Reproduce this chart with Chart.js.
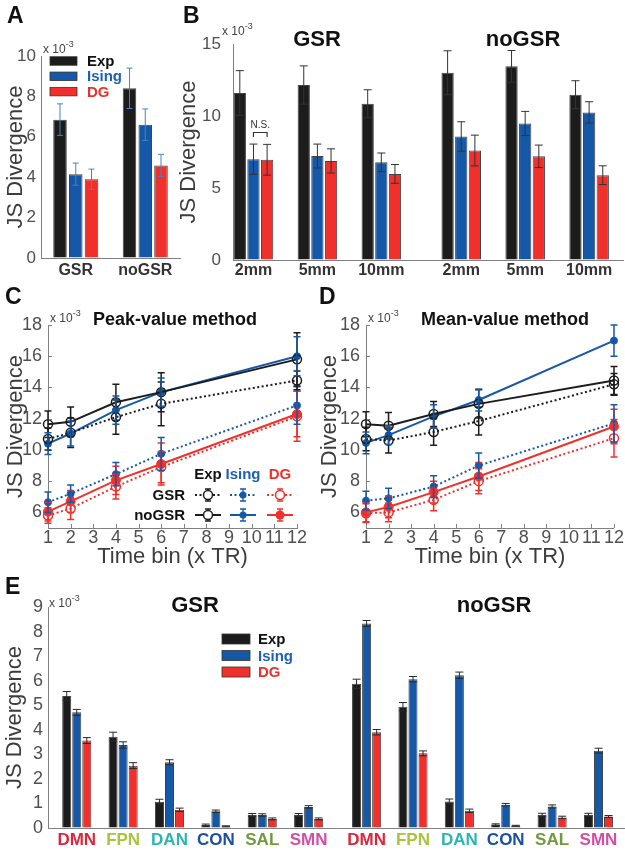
<!DOCTYPE html>
<html>
<head>
<meta charset="utf-8">
<title>JS Divergence</title>
<script src="https://cdn.jsdelivr.net/npm/chart.js@4.4.1/dist/chart.umd.min.js"></script>
<style>
  html, body { margin:0; padding:0; background:#fff; }
  body { position:relative; width:625px; height:853px; overflow:hidden; font-family:'Liberation Sans', Arial, Helvetica, sans-serif; }
  canvas { position:absolute; }
  .t { position:absolute; white-space:nowrap; line-height:1; }
  .letter { font-size:23px; font-weight:bold; color:#111; }
  .sci { font-size:12px; color:#444; }
  .sci span { font-size:9px; position:relative; top:-6px; }
  .ttl { font-weight:bold; color:#111; transform:translateX(-50%); }
</style>
</head>
<body>
<canvas id="cA" width="185" height="282" style="left:0;top:0"></canvas>
<canvas id="cB" width="449" height="282" style="left:176px;top:0"></canvas>
<canvas id="cC" width="312" height="305" style="left:0;top:282px"></canvas>
<canvas id="cD" width="313" height="305" style="left:312px;top:282px"></canvas>
<canvas id="cE" width="625" height="266" style="left:0;top:587px"></canvas>

<div class="t letter" style="left:7px;top:4px">A</div>
<div class="t letter" style="left:183px;top:4px">B</div>
<div class="t letter" style="left:5px;top:285px">C</div>
<div class="t letter" style="left:319px;top:285px">D</div>
<div class="t letter" style="left:5px;top:575px">E</div>

<div class="t sci" style="left:43px;top:43px">x 10<span>-3</span></div>
<div class="t sci" style="left:222px;top:25px">x 10<span>-3</span></div>
<div class="t sci" style="left:50px;top:312px">x 10<span>-3</span></div>
<div class="t sci" style="left:368px;top:312px">x 10<span>-3</span></div>
<div class="t sci" style="left:49px;top:597px">x 10<span>-3</span></div>

<div class="t ttl" style="left:317px;top:28px;font-size:22px">GSR</div>
<div class="t ttl" style="left:523px;top:28px;font-size:22px">noGSR</div>
<div class="t ttl" style="left:175px;top:310px;font-size:18px">Peak-value method</div>
<div class="t ttl" style="left:505px;top:310px;font-size:18px">Mean-value method</div>
<div class="t ttl" style="left:195px;top:594px;font-size:22px">GSR</div>
<div class="t ttl" style="left:494px;top:594px;font-size:22px">noGSR</div>

<script>
// ---------------- DATA ----------------
// Panel A
const A_categories = ['GSR', 'noGSR'];
const A_yTicks = [0, 2, 4, 6, 8, 10];
const A_exp = [6.85, 8.4];
const A_expErr = [0.78, 1.0];
const A_ising = [4.15, 6.6];
const A_isingErr = [0.55, 0.78];
const A_dg = [3.9, 4.58];
const A_dgErr = [0.5, 0.55];

// Panel B
const B_categories = ['2mm', '5mm', '10mm', '2mm', '5mm', '10mm'];
const B_yTicks = [0, 5, 10, 15];
const B_exp = [11.6, 12.15, 10.85, 13.0, 13.45, 11.48];
const B_expErr = [1.55, 1.33, 0.97, 1.53, 1.1, 0.97];
const B_ising = [7.0, 7.22, 6.78, 8.58, 9.48, 10.25];
const B_isingErr = [1.05, 0.83, 0.65, 1.02, 0.84, 0.74];
const B_dg = [6.96, 6.88, 5.98, 7.6, 7.2, 5.89];
const B_dgErr = [1.07, 0.84, 0.65, 1.07, 0.78, 0.65];

// Panels C & D
const timeBins = [1, 2, 4, 6, 12];
const timeTicks = [1, 2, 3, 4, 5, 6, 7, 8, 9, 10, 11, 12];
const lineYTicks = [6, 8, 10, 12, 14, 16, 18];

const C_expGSR = [10.7, 11.1, 12.1, 12.95, 14.45];
const C_expGSR_err = [0.7, 0.95, 1.1, 1.4, 0.6];
const C_expNoGSR = [11.65, 11.8, 13.05, 13.7, 15.8];
const C_expNoGSR_err = [0.85, 0.95, 1.15, 1.25, 1.7];
const C_isingGSR = [6.65, 7.2, 8.45, 9.75, 12.85];
const C_isingGSR_err = [0.65, 0.55, 0.75, 1.05, 1.2];
const C_isingNoGSR = [10.4, 11.05, 12.55, 13.7, 16.0];
const C_isingNoGSR_err = [0.7, 0.8, 0.9, 0.9, 1.25];
const C_dgGSR = [5.8, 6.25, 7.65, 8.9, 12.15];
const C_dgGSR_err = [0.5, 0.7, 0.8, 1.0, 1.6];
const C_dgNoGSR = [6.05, 6.7, 8.05, 9.1, 12.3];
const C_dgNoGSR_err = [0.6, 0.7, 0.9, 1.35, 1.45];

const D_expGSR = [10.7, 10.6, 11.15, 11.85, 14.2];
const D_expGSR_err = [0.75, 0.8, 0.85, 0.9, 0.7];
const D_expNoGSR = [11.65, 11.55, 12.3, 12.95, 14.45];
const D_expNoGSR_err = [0.8, 0.85, 0.8, 0.9, 0.9];
const D_isingGSR = [6.75, 6.9, 7.65, 9.0, 11.7];
const D_isingGSR_err = [0.6, 0.65, 0.7, 0.8, 1.2];
const D_isingNoGSR = [10.45, 10.95, 12.15, 13.2, 17.0];
const D_isingNoGSR_err = [0.7, 0.6, 0.75, 0.7, 1.0];
const D_dgGSR = [5.95, 6.0, 6.8, 8.0, 10.75];
const D_dgGSR_err = [0.6, 0.6, 0.7, 0.8, 1.2];
const D_dgNoGSR = [6.0, 6.35, 7.3, 8.3, 11.5];
const D_dgNoGSR_err = [0.6, 0.7, 0.7, 0.9, 1.1];

// Panel E
const E_networks = ['DMN', 'FPN', 'DAN', 'CON', 'SAL', 'SMN'];
const E_netColors = ['#d8283f', '#aac43e', '#2db6b0', '#1b4f9f', '#6f9b3c', '#d24ea6'];
const E_yTicks = [0, 1, 2, 3, 4, 5, 6, 7, 8, 9];
const E_gsrExp = [5.38, 3.72, 1.07, 0.12, 0.53, 0.53];
const E_gsrExpErr = [0.18, 0.18, 0.1, 0.04, 0.06, 0.06];
const E_gsrIsing = [4.71, 3.38, 2.68, 0.68, 0.53, 0.86];
const E_gsrIsingErr = [0.12, 0.13, 0.1, 0.05, 0.05, 0.05];
const E_gsrDG = [3.56, 2.54, 0.74, 0.07, 0.37, 0.37];
const E_gsrDGErr = [0.12, 0.12, 0.07, 0.02, 0.04, 0.04];
const E_noExp = [5.87, 4.94, 1.08, 0.14, 0.54, 0.54];
const E_noExpErr = [0.19, 0.17, 0.1, 0.03, 0.06, 0.06];
const E_noIsing = [8.33, 6.06, 6.22, 0.95, 0.88, 3.15];
const E_noIsingErr = [0.12, 0.11, 0.13, 0.05, 0.06, 0.1];
const E_noDG = [3.9, 3.04, 0.7, 0.09, 0.43, 0.47];
const E_noDGErr = [0.11, 0.1, 0.07, 0.02, 0.05, 0.04];

// ---------------- STYLE ----------------
const FONT = "'Liberation Sans', Arial, Helvetica, sans-serif";
Chart.defaults.font.family = FONT;
const COL = { exp: '#1c1c1c', ising: '#1658a8', dg: '#f1302c' };
const TXT = { exp: '#111111', ising: '#1f5fb4', dg: '#e8322c' };
const AXIS = '#808080', TICKC = '#505050', TITLEC = '#3c3c3c';

function yScale(min, max, ticks, width, titlePad, tickPad, fs) {
  return {
    type: 'linear', min: min, max: max,
    afterBuildTicks: s => { s.ticks = ticks.map(v => ({ value: v })); },
    afterFit: s => { s.width = width; },
    grid: { display: true, drawOnChartArea: false, drawTicks: false },
    border: { display: true, color: AXIS, width: 1 },
    ticks: { color: TICKC, font: { size: fs, lineHeight: 1 }, padding: tickPad },
    title: { display: true, text: 'JS Divergence', color: TITLEC,
             font: { size: 22, lineHeight: 1 }, padding: { top: titlePad, bottom: 0 } }
  };
}

function makeDecor(cfg) {
  return {
    id: 'decor',
    afterDatasetsDraw(chart) {
      const ctx = chart.ctx, area = chart.chartArea;
      const xs = chart.scales.x, ys = chart.scales.y;
      ctx.save();
      if (cfg.insideTicks) {
        ctx.strokeStyle = AXIS; ctx.lineWidth = 1; ctx.setLineDash([]);
        ctx.beginPath();
        xs.ticks.forEach(t => {
          const px = Math.round(xs.getPixelForValue(t.value)) + 0.5;
          ctx.moveTo(px, area.bottom); ctx.lineTo(px, area.bottom - 4);
        });
        ys.ticks.forEach(t => {
          const py = Math.round(ys.getPixelForValue(t.value)) + 0.5;
          ctx.moveTo(area.left, py); ctx.lineTo(area.left + 4, py);
        });
        ctx.stroke();
      }
      chart.data.datasets.forEach((ds, di) => {
        if (!ds.errors) return;
        const meta = chart.getDatasetMeta(di);
        ctx.strokeStyle = ds.errorColor || ds.borderColor;
        ctx.lineWidth = ds.errorWidth || 1;
        ctx.setLineDash([]);
        const cap = ds.capHalf || 3;
        meta.data.forEach((el, i) => {
          const d = ds.data[i];
          const v = (typeof d === 'object') ? d.y : d;
          const e = ds.errors[i];
          const x = el.x;
          const y1 = ys.getPixelForValue(v + e), y2 = ys.getPixelForValue(v - e);
          ctx.beginPath();
          ctx.moveTo(x, y1); ctx.lineTo(x, y2);
          ctx.moveTo(x - cap, y1); ctx.lineTo(x + cap, y1);
          ctx.moveTo(x - cap, y2); ctx.lineTo(x + cap, y2);
          ctx.stroke();
        });
      });
      if (cfg.boxLegend) {
        const L = cfg.boxLegend;
        L.items.forEach((it, k) => {
          const y = L.y + k * L.dy;
          ctx.fillStyle = it.fill;
          ctx.fillRect(L.x, y - L.h / 2, L.w, L.h);
          ctx.strokeStyle = '#333'; ctx.lineWidth = 0.8;
          ctx.strokeRect(L.x, y - L.h / 2, L.w, L.h);
          ctx.fillStyle = it.color;
          ctx.font = 'bold 15px ' + FONT;
          ctx.textAlign = 'left'; ctx.textBaseline = 'middle';
          ctx.fillText(it.text, L.textX, y + 1);
        });
      }
      if (cfg.ns) {
        const N = cfg.ns;
        const a = chart.getDatasetMeta(N.a).data[N.i], b = chart.getDatasetMeta(N.b).data[N.i];
        const yt = Math.round(ys.getPixelForValue(N.top)) + 0.5, yb = ys.getPixelForValue(N.bottom);
        ctx.strokeStyle = '#333'; ctx.lineWidth = 1.2;
        ctx.beginPath();
        ctx.moveTo(a.x, yb); ctx.lineTo(a.x, yt); ctx.lineTo(b.x, yt); ctx.lineTo(b.x, yb);
        ctx.stroke();
        ctx.font = '10px ' + FONT; ctx.fillStyle = '#333';
        ctx.textAlign = 'center'; ctx.textBaseline = 'alphabetic';
        ctx.fillText('N.S.', (a.x + b.x) / 2, yt - 5);
      }
      if (cfg.lineLegend) {
        const L = cfg.lineLegend;
        ctx.font = 'bold 15px ' + FONT; ctx.textBaseline = 'middle';
        ctx.textAlign = 'center';
        L.cols.forEach(c => { ctx.fillStyle = c.text; ctx.fillText(c.label, c.cx, L.headY); });
        L.rows.forEach(r => {
          ctx.textAlign = 'right'; ctx.fillStyle = '#111';
          ctx.fillText(r.label, L.labelRight, r.y + 1);
          L.cols.forEach((c, ci) => {
            ctx.strokeStyle = c.color; ctx.lineWidth = 2; ctx.setLineDash(r.dash);
            ctx.beginPath(); ctx.moveTo(c.cx - L.half, r.y); ctx.lineTo(c.cx + L.half, r.y); ctx.stroke();
            ctx.setLineDash([]); ctx.lineWidth = 1.3;
            ctx.beginPath();
            ctx.moveTo(c.cx, r.y - 6); ctx.lineTo(c.cx, r.y + 6);
            ctx.moveTo(c.cx - 3, r.y - 6); ctx.lineTo(c.cx + 3, r.y - 6);
            ctx.moveTo(c.cx - 3, r.y + 6); ctx.lineTo(c.cx + 3, r.y + 6);
            ctx.stroke();
            const m = r.markers[ci];
            ctx.beginPath(); ctx.arc(c.cx, r.y, m.r, 0, Math.PI * 2);
            if (m.open) { ctx.fillStyle = '#fff'; ctx.fill(); ctx.lineWidth = 1.5; ctx.stroke(); }
            else { ctx.fillStyle = c.color; ctx.fill(); }
          });
        });
      }
      ctx.restore();
    }
  };
}

function barDS(vals, errs, color, pos, errColor, capHalf) {
  return {
    data: pos ? vals.map((v, i) => ({ x: pos[i], y: v })) : vals,
    errors: errs, backgroundColor: color, borderColor: '#444', borderWidth: 1,
    errorColor: errColor, errorWidth: 1, capHalf: capHalf
  };
}

const baseOpts = { responsive: false, animation: false, maintainAspectRatio: false,
  plugins: { legend: { display: false }, tooltip: { enabled: false } } };

// ---------------- PANEL A ----------------
new Chart(document.getElementById('cA'), {
  type: 'bar',
  data: { labels: A_categories, datasets: [
    barDS(A_exp, A_expErr, COL.exp, null, '#4683c0', 3),
    barDS(A_ising, A_isingErr, COL.ising, null, '#4683c0', 3),
    barDS(A_dg, A_dgErr, COL.dg, null, '#4683c0', 3)
  ] },
  options: Object.assign({}, baseOpts, {
    layout: { padding: { top: 56, right: 5, left: 0, bottom: 0 } },
    datasets: { bar: { categoryPercentage: 0.68, barPercentage: 0.86 } },
    scales: {
      x: { type: 'category', offset: true,
           afterFit: s => { s.height = 24; },
           grid: { display: true, drawOnChartArea: false, drawTicks: false },
           border: { display: true, color: AXIS, width: 1 },
           ticks: { color: '#333', font: { size: 16, weight: 'bold', lineHeight: 1 }, padding: 5 } },
      y: yScale(0, 10, A_yTicks, 41, 5, 5, 17)
    }
  }),
  plugins: [makeDecor({
    boxLegend: { x: 50, w: 27, h: 8.5, y: 61, dy: 15.3, textX: 87, items: [
      { text: 'Exp', fill: COL.exp, color: TXT.exp },
      { text: 'Ising', fill: COL.ising, color: TXT.ising },
      { text: 'DG', fill: COL.dg, color: TXT.dg }] }
  })]
});

// ---------------- PANEL B ----------------
const B_pos = B_categories.map((_, i) => i + (i >= 3 ? 0.25 : 0));
new Chart(document.getElementById('cB'), {
  type: 'bar',
  data: { datasets: [
    barDS(B_exp, B_expErr, COL.exp, B_pos, '#333', 4),
    barDS(B_ising, B_isingErr, COL.ising, B_pos, '#333', 4),
    barDS(B_dg, B_dgErr, COL.dg, B_pos, '#333', 4)
  ] },
  options: Object.assign({}, baseOpts, {
    layout: { padding: { top: 44, right: 2, left: 0, bottom: 0 } },
    datasets: { bar: { categoryPercentage: 0.64, barPercentage: 0.9 } },
    scales: {
      x: { type: 'linear', offset: false, min: -0.32, max: 5.78,
           afterBuildTicks: s => { s.ticks = B_pos.map(v => ({ value: v })); },
           afterFit: s => { s.height = 22; },
           grid: { display: true, drawOnChartArea: false, drawTicks: false },
           border: { display: true, color: AXIS, width: 1 },
           ticks: { callback: (v, i) => B_categories[i], autoSkip: false, maxRotation: 0, minRotation: 0,
                    color: '#333', font: { size: 16, weight: 'bold', lineHeight: 1 }, padding: 3 } },
      y: yScale(0, 15, B_yTicks, 57, 2, 12, 17)
    }
  }),
  plugins: [makeDecor({ ns: { a: 1, b: 2, i: 0, top: 8.9, bottom: 8.55 } })]
});

// ---------------- PANELS C & D ----------------
function lineDS(vals, errs, color, dashed, marker) {
  return {
    data: timeBins.map((x, i) => ({ x: x, y: vals[i] })), errors: errs,
    borderColor: color, backgroundColor: color, borderWidth: 2,
    borderDash: dashed ? [2, 2.5] : [], tension: 0, fill: false, clip: false,
    pointRadius: marker.r, pointBorderWidth: marker.open ? 1.5 : 1,
    pointBackgroundColor: marker.open ? 'rgba(255,255,255,0)' : color, pointBorderColor: color,
    errorColor: color, errorWidth: 1.5, capHalf: 3.5
  };
}
const MK = { exp: { r: 4.5, open: true }, ising: { r: 3.5, open: false },
             dgG: { r: 4.5, open: true }, dgN: { r: 4.5, open: false } };

function lineChart(id, rightPad, yWidth, titlePad, sets, legend) {
  new Chart(document.getElementById(id), {
    type: 'line',
    data: { datasets: [
      lineDS(sets.dgG, sets.dgGe, COL.dg, true, MK.dgG),
      lineDS(sets.dgN, sets.dgNe, COL.dg, false, MK.dgN),
      lineDS(sets.isG, sets.isGe, COL.ising, true, MK.ising),
      lineDS(sets.expG, sets.expGe, COL.exp, true, MK.exp),
      lineDS(sets.expN, sets.expNe, COL.exp, false, MK.exp),
      lineDS(sets.isN, sets.isNe, COL.ising, false, MK.ising)
    ] },
    options: Object.assign({}, baseOpts, {
      layout: { padding: { top: 43, right: rightPad, left: 0, bottom: 0 } },
      scales: {
        x: { type: 'linear', min: 1, max: 12,
             afterBuildTicks: s => { s.ticks = timeTicks.map(v => ({ value: v })); },
             afterFit: s => { s.height = 59; },
             grid: { display: true, drawOnChartArea: false, drawTicks: false },
             border: { display: true, color: AXIS, width: 1 },
             ticks: { autoSkip: false, maxRotation: 0, minRotation: 0, color: TICKC,
                      font: { size: 18, lineHeight: 1 }, padding: 1 },
             title: { display: true, text: 'Time bin (x TR)', color: TITLEC,
                      font: { size: 22, lineHeight: 1 }, padding: { top: 0, bottom: 19 } } },
        y: yScale(5, 18, lineYTicks, yWidth, titlePad, 6, 18)
      }
    }),
    plugins: [makeDecor({ insideTicks: true, lineLegend: legend })]
  });
}

lineChart('cC', 15, 48, 5, {
  expG: C_expGSR, expGe: C_expGSR_err, expN: C_expNoGSR, expNe: C_expNoGSR_err,
  isG: C_isingGSR, isGe: C_isingGSR_err, isN: C_isingNoGSR, isNe: C_isingNoGSR_err,
  dgG: C_dgGSR, dgGe: C_dgGSR_err, dgN: C_dgNoGSR, dgNe: C_dgNoGSR_err
}, {
  headY: 193, labelRight: 185, half: 13,
  cols: [{ label: 'Exp', cx: 208, color: COL.exp, text: TXT.exp },
         { label: 'Ising', cx: 243, color: COL.ising, text: TXT.ising },
         { label: 'DG', cx: 280, color: COL.dg, text: TXT.dg }],
  rows: [{ label: 'GSR', y: 213, dash: [2, 2.5], markers: [MK.exp, MK.ising, MK.dgG] },
         { label: 'noGSR', y: 233, dash: [], markers: [MK.exp, MK.ising, MK.dgN] }]
});

lineChart('cD', 10, 54, 7, {
  expG: D_expGSR, expGe: D_expGSR_err, expN: D_expNoGSR, expNe: D_expNoGSR_err,
  isG: D_isingGSR, isGe: D_isingGSR_err, isN: D_isingNoGSR, isNe: D_isingNoGSR_err,
  dgG: D_dgGSR, dgGe: D_dgGSR_err, dgN: D_dgNoGSR, dgNe: D_dgNoGSR_err
}, null);

// ---------------- PANEL E ----------------
const E_labels = E_networks.concat(E_networks);
const E_pos = E_labels.map((_, i) => i + (i >= 6 ? 0.25 : 0));
new Chart(document.getElementById('cE'), {
  type: 'bar',
  data: { datasets: [
    barDS(E_gsrExp.concat(E_noExp), E_gsrExpErr.concat(E_noExpErr), COL.exp, E_pos, '#2a2a2a', 4),
    barDS(E_gsrIsing.concat(E_noIsing), E_gsrIsingErr.concat(E_noIsingErr), COL.ising, E_pos, '#2a2a2a', 4),
    barDS(E_gsrDG.concat(E_noDG), E_gsrDGErr.concat(E_noDGErr), COL.dg, E_pos, '#2a2a2a', 4)
  ] },
  options: Object.assign({}, baseOpts, {
    layout: { padding: { top: 20, right: 1, left: 0, bottom: 0 } },
    datasets: { bar: { categoryPercentage: 0.65, barPercentage: 0.9 } },
    scales: {
      x: { type: 'linear', offset: false, min: -0.62, max: 11.8,
           afterBuildTicks: s => { s.ticks = E_pos.map(v => ({ value: v })); },
           afterFit: s => { s.height = 25; },
           grid: { display: true, drawOnChartArea: false, drawTicks: false },
           border: { display: true, color: AXIS, width: 1 },
           ticks: { callback: (v, i) => E_labels[i], autoSkip: false, maxRotation: 0, minRotation: 0,
                    color: c => E_netColors[c.index % 6],
                    font: { size: 17, weight: 'bold', lineHeight: 1 }, padding: 3.5 } },
      y: yScale(0, 9, E_yTicks, 48, 4, 5, 18)
    }
  }),
  plugins: [makeDecor({
    boxLegend: { x: 222, w: 28, h: 10, y: 52, dy: 16.5, textX: 258, items: [
      { text: 'Exp', fill: COL.exp, color: TXT.exp },
      { text: 'Ising', fill: COL.ising, color: TXT.ising },
      { text: 'DG', fill: COL.dg, color: TXT.dg }] }
  })]
});
</script>
</body>
</html>
